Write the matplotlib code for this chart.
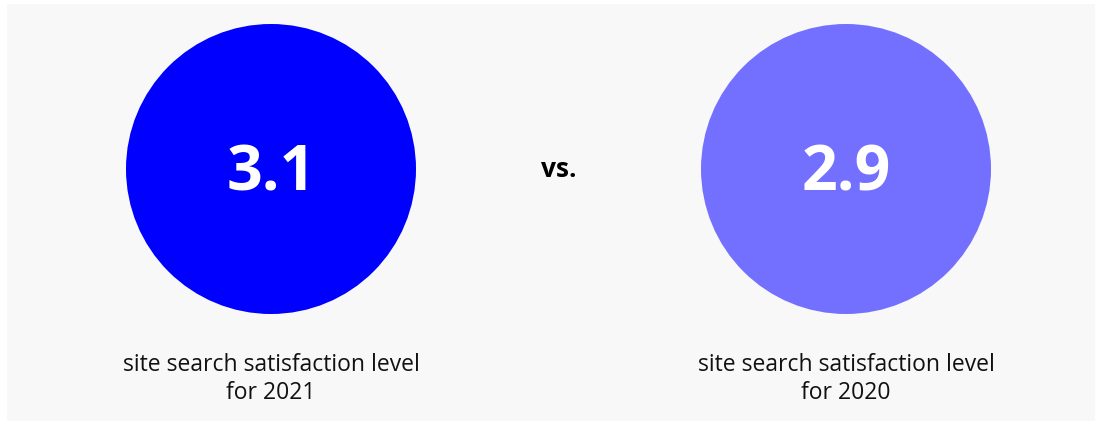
import matplotlib.pyplot as plt
from matplotlib.patches import Circle, Rectangle

# valeurs
values = [3.1, 2.9]
years = ["2021", "2020"]
label = "site search satisfaction level"
colors = ["#0000ff", "#7470ff"]

plt.rcParams['font.family'] = ['Open Sans', 'DejaVu Sans']

fig = plt.figure(figsize=(11.02, 4.27), dpi=100)
ax = fig.add_axes([0, 0, 1, 1])
ax.set_xlim(0, 1102)
ax.set_ylim(427, 0)
ax.set_aspect('equal')
ax.axis('off')

# fond gris clair
ax.add_patch(Rectangle((7, 5), 1088, 417, facecolor="#f8f8f8", edgecolor="none"))

centers_x = [271, 846]
cy = 170
r = 145

for x, v, yr, c in zip(centers_x, values, years, colors):
    ax.add_patch(Circle((x, cy), r, facecolor=c, edgecolor="none"))
    ax.text(x, cy + 4, f"{v:.1f}", ha='center', va='center', color='white',
            fontsize=45, fontweight='bold')
    ax.text(x, 365, label, ha='center', va='center', fontsize=16.5, color='#111111')
    ax.text(x, 393, f"for {yr}", ha='center', va='center', fontsize=16.5, color='#111111')

ax.text(559, 170, "vs.", ha='center', va='center', fontsize=19, fontweight='bold')

fig.savefig("out.png", dpi=100)
